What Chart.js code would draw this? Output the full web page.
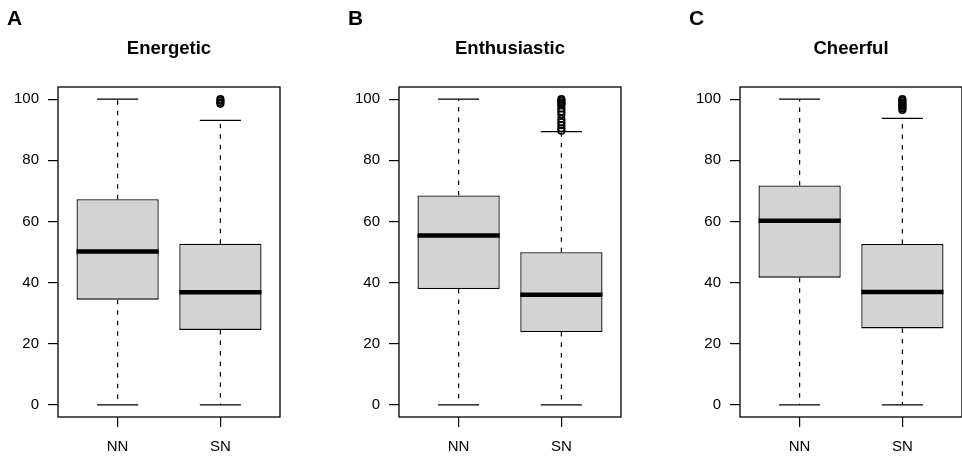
<!DOCTYPE html>
<html>
<head>
<meta charset="utf-8">
<script src="https://cdn.jsdelivr.net/npm/chart.js@4/dist/chart.umd.min.js"></script>
<style>
  html, body { margin:0; padding:0; background:#fff; width:962px; height:457px; overflow:hidden; }
  .panel { position:absolute; top:0; width:338px; height:457px; }
  .panel canvas { position:absolute; left:0; top:0; }
  .tag { position:absolute; left:7px; top:7px; font:bold 21px "Liberation Sans", Arial, sans-serif; line-height:21px; color:#000; }
</style>
</head>
<body>
<div class="panel" style="left:0px"><canvas id="c0" width="338" height="457"></canvas><div class="tag">A</div></div>
<div class="panel" style="left:341px"><canvas id="c1" width="338" height="457"></canvas><div class="tag">B</div></div>
<div class="panel" style="left:682px"><canvas id="c2" width="338" height="457"></canvas><div class="tag">C</div></div>
<script>
// groups on the x axis, y ticks
const groups = ['NN', 'SN'];
const yTicks = [0, 20, 40, 60, 80, 100];
const titles = ['Energetic', 'Enthusiastic', 'Cheerful'];

// five-number summaries: [lower whisker, Q1, median, Q3, upper whisker]
const energeticNN = [0, 34.4, 50.2, 67.3, 100];
const energeticSN = [0, 24.5, 36.8, 52.7, 93.1];
const enthusiasticNN = [0, 37.9, 55.4, 68.5, 100];
const enthusiasticSN = [0, 23.8, 36.0, 49.9, 89.4];
const cheerfulNN = [0, 41.6, 60.2, 71.8, 100];
const cheerfulSN = [0, 25.0, 36.9, 52.6, 93.7];

// points beyond the whiskers (SN only)
const energeticOut = [98.5, 99, 99.5, 100];
const enthusiasticOut = [89.7, 90.5, 91.5, 92.5, 93.5, 95, 96, 97, 98, 98.5, 99, 99.5, 100];
const cheerfulOut = [96.5, 97, 97.5, 98, 98.5, 99, 99.5, 100];

const FONT = '"Liberation Sans", Arial, Helvetica, sans-serif';
const BOX_W = 0.8, CAP_W = 0.4;

// draws the full frame around the plot region
const frame = {
  id: 'frame',
  afterDraw(chart){
    const a = chart.chartArea, ctx = chart.ctx;
    ctx.save();
    ctx.strokeStyle = '#000';
    ctx.lineWidth = 1.3;
    ctx.strokeRect(a.left, a.top, a.right - a.left, a.bottom - a.top);
    ctx.restore();
  }
};

function segs(stats, pick){
  // builds line segments separated by gaps
  const out = [];
  stats.forEach((s, i) => {
    pick(s, i + 1).forEach(seg => {
      out.push(seg[0], seg[1], {x: seg[1].x, y: null});
    });
  });
  return out;
}

function makePanel(id, title, nn, sn, outliers){
  const stats = [nn, sn];
  const boxes = stats.map((s, i) => ({x: i + 1, y: [s[1], s[3]]}));
  const medians = segs(stats, (s, x) => [[{x: x - BOX_W/2, y: s[2]}, {x: x + BOX_W/2, y: s[2]}]]);
  const whiskers = segs(stats, (s, x) => [[{x, y: s[3]}, {x, y: s[4]}], [{x, y: s[1]}, {x, y: s[0]}]]);
  const caps = segs(stats, (s, x) => [
    [{x: x - CAP_W/2, y: s[4]}, {x: x + CAP_W/2, y: s[4]}],
    [{x: x - CAP_W/2, y: s[0]}, {x: x + CAP_W/2, y: s[0]}]
  ]);
  const pts = outliers.map(v => ({x: 2, y: v}));

  const lineDs = (data, extra) => Object.assign({
    type: 'line', data, borderColor: '#000', borderWidth: 1.2,
    pointRadius: 0, spanGaps: false, fill: false, tension: 0
  }, extra);

  new Chart(document.getElementById(id), {
    type: 'bar',
    data: {
      datasets: [
        lineDs(medians, {borderWidth: 4.5, borderCapStyle: 'butt', order: 0}),
        {type: 'scatter', data: pts, pointRadius: 3.3, pointBorderWidth: 1.6,
         pointBorderColor: '#000', pointBackgroundColor: 'rgba(0,0,0,0)', order: 1},
        lineDs(caps, {order: 2}),
        lineDs(whiskers, {borderDash: [4.5, 6], order: 3}),
        {type: 'bar', data: boxes, backgroundColor: '#d3d3d3', borderColor: '#000',
         borderWidth: 1.3, borderSkipped: false, barPercentage: BOX_W, categoryPercentage: 1, order: 4}
      ]
    },
    options: {
      responsive: false,
      animation: false,
      layout: {padding: 0},
      plugins: {
        legend: {display: false},
        tooltip: {enabled: false},
        title: {
          display: true, text: title, color: '#000',
          font: {family: FONT, size: 18.5, weight: 'bold'},
          padding: {top: 38, bottom: 26.8}
        }
      },
      scales: {
        x: {
          type: 'linear', min: 0.42, max: 2.58, offset: false,
          afterBuildTicks: s => { s.ticks = groups.map((g, i) => ({value: i + 1})); },
          afterFit: s => { s.height = 40; },
          grid: {offset: false, drawOnChartArea: false, tickLength: 10, color: '#000', lineWidth: 1.2},
          border: {display: false},
          ticks: {color: '#000', font: {family: FONT, size: 15}, padding: 11, autoSkip: false,
                  maxRotation: 0, callback: v => groups[v - 1]}
        },
        y: {
          min: -4, max: 104,
          afterBuildTicks: s => { s.ticks = yTicks.map(v => ({value: v})); },
          afterFit: s => { s.width = 58; },
          grid: {drawOnChartArea: false, tickLength: 10, color: '#000', lineWidth: 1.2},
          border: {display: false},
          ticks: {color: '#000', font: {family: FONT, size: 15}, padding: 9}
        },
        // empty right margin so the title centres over the plot
        yr: {
          position: 'right', min: -4, max: 104,
          afterFit: s => { s.width = 58; },
          grid: {display: false}, border: {display: false}, ticks: {display: false}
        }
      }
    },
    plugins: [frame]
  });
}

makePanel('c0', titles[0], energeticNN, energeticSN, energeticOut);
makePanel('c1', titles[1], enthusiasticNN, enthusiasticSN, enthusiasticOut);
makePanel('c2', titles[2], cheerfulNN, cheerfulSN, cheerfulOut);
</script>
</body>
</html>
